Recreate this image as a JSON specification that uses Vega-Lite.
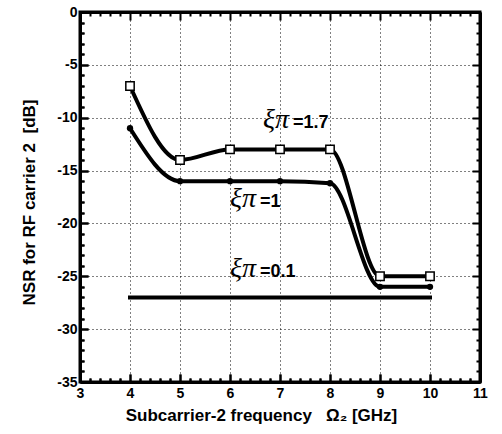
{
  "$schema": "https://vega.github.io/schema/vega-lite/v6.json",
  "width": 400,
  "height": 370,
  "autosize": "none",
  "padding": {"left": 80, "top": 12, "right": 21, "bottom": 52},
  "background": "white",
  "view": {"stroke": "black", "strokeWidth": 3},
  "datasets": {
    "xi17": [
      {"freq": 4, "nsr": -7},
      {"freq": 5, "nsr": -14},
      {"freq": 6, "nsr": -13},
      {"freq": 7, "nsr": -13},
      {"freq": 8, "nsr": -13},
      {"freq": 9, "nsr": -25},
      {"freq": 10, "nsr": -25}
    ],
    "xi1": [
      {"freq": 4, "nsr": -11},
      {"freq": 5, "nsr": -16},
      {"freq": 6, "nsr": -16},
      {"freq": 7, "nsr": -16},
      {"freq": 8, "nsr": -16.2},
      {"freq": 9, "nsr": -26},
      {"freq": 10, "nsr": -26}
    ],
    "xi01": [
      {"freq": 4, "nsr": -27},
      {"freq": 10, "nsr": -27}
    ],
    "annotations": [
      {"sym": "ξπ", "val": "=1.7", "freq": 6.66, "nsr": -11.0},
      {"sym": "ξπ", "val": "=1", "freq": 6.0, "nsr": -18.45},
      {"sym": "ξπ", "val": " =0.1", "freq": 6.0, "nsr": -25.07}
    ]
  },
  "resolve": {"axis": {"x": "independent", "y": "independent"}},
  "layer": [
    {
      "data": {"name": "xi17"},
      "mark": {"type": "line", "interpolate": "monotone", "strokeWidth": 4, "color": "black"},
      "encoding": {
        "x": {
          "field": "freq", "type": "quantitative",
          "scale": {"domain": [3, 11]},
          "axis": {
            "orient": "bottom",
            "tickCount": 40,
            "labelExpr": "datum.value % 1 === 0 ? '' + datum.value : ''",
            "labelOverlap": false,
            "labelFlush": false,
            "labelFont": "Liberation Sans",
            "labelFontWeight": "bold",
            "labelFontSize": 14,
            "labelColor": "black",
            "labelPadding": 12,
            "tickColor": "black",
            "tickWidth": 2,
            "tickSize": {"condition": {"test": "datum.value % 1 === 0", "value": -8}, "value": -4},
            "domainColor": "black",
            "domainWidth": 3,
            "grid": true,
            "gridColor": "black",
            "gridWidth": 1,
            "gridDash": [1, 3],
            "gridOpacity": {"condition": {"test": "datum.value % 1 === 0", "value": 1}, "value": 0},
            "title": "Subcarrier-2 frequency\u00a0\u00a0\u00a0Ω₂ [GHz]",
            "titleFont": "Liberation Sans",
            "titleFontSize": 17,
            "titleFontWeight": "bold",
            "titleColor": "black",
            "titleX": 181,
            "titleY": 33,
            "titleAlign": "center",
            "titleBaseline": "middle"
          }
        },
        "y": {
          "field": "nsr", "type": "quantitative",
          "scale": {"domain": [-35, 0]},
          "axis": {
            "orient": "left",
            "tickCount": 35,
            "labelExpr": "datum.value % 5 === 0 ? '' + datum.value : ''",
            "labelOverlap": false,
            "labelFlush": false,
            "labelFont": "Liberation Sans",
            "labelFontWeight": "bold",
            "labelFontSize": 14,
            "labelColor": "black",
            "labelPadding": 11,
            "tickColor": "black",
            "tickWidth": 2,
            "tickSize": {"condition": {"test": "datum.value % 5 === 0", "value": -8}, "value": -4},
            "domainColor": "black",
            "domainWidth": 3,
            "grid": true,
            "gridColor": "black",
            "gridWidth": 1,
            "gridDash": [1, 3],
            "gridOpacity": {"condition": {"test": "datum.value % 5 === 0", "value": 1}, "value": 0},
            "title": "NSR for RF carrier 2\u00a0\u00a0[dB]",
            "titleFont": "Liberation Sans",
            "titleFontSize": 17,
            "titleFontWeight": "bold",
            "titleColor": "black",
            "titleAngle": -90,
            "titleX": -51,
            "titleY": 190,
            "titleAlign": "center",
            "titleBaseline": "middle"
          }
        }
      }
    },
    {
      "data": {"name": "xi1"},
      "mark": {"type": "line", "interpolate": "monotone", "strokeWidth": 4, "color": "black"},
      "encoding": {
        "x": {
          "field": "freq", "type": "quantitative",
          "axis": {
            "orient": "top",
            "tickCount": 40,
            "labels": false,
            "ticks": false,
            "title": null,
            "domainColor": "black",
            "domainWidth": 3,
            "grid": true,
            "gridColor": "black",
            "gridWidth": 2,
            "gridOpacity": 1,
            "gridDash": {"condition": {"test": "datum.value % 1 === 0", "value": [8, 354, 8, 0]}, "value": [4, 362, 4, 0]}
          }
        },
        "y": {
          "field": "nsr", "type": "quantitative",
          "axis": {
            "orient": "right",
            "tickCount": 35,
            "labels": false,
            "ticks": false,
            "title": null,
            "domainColor": "black",
            "domainWidth": 3,
            "grid": true,
            "gridColor": "black",
            "gridWidth": 2,
            "gridOpacity": 1,
            "gridDash": {"condition": {"test": "datum.value % 5 === 0", "value": [8, 384, 8, 0]}, "value": [4, 392, 4, 0]}
          }
        }
      }
    },
    {
      "data": {"name": "xi01"},
      "mark": {"type": "line", "strokeWidth": 4, "color": "black", "strokeCap": "square"},
      "encoding": {
        "x": {"field": "freq", "type": "quantitative", "axis": null},
        "y": {"field": "nsr", "type": "quantitative", "axis": null}
      }
    },
    {
      "data": {"name": "xi17"},
      "mark": {"type": "point", "shape": "square", "size": 70, "filled": true, "fill": "white", "stroke": "black", "strokeWidth": 1.5, "opacity": 1},
      "encoding": {
        "x": {"field": "freq", "type": "quantitative", "axis": null},
        "y": {"field": "nsr", "type": "quantitative", "axis": null}
      }
    },
    {
      "data": {"name": "xi1"},
      "mark": {"type": "circle", "size": 40, "color": "black", "opacity": 1},
      "encoding": {
        "x": {"field": "freq", "type": "quantitative", "axis": null},
        "y": {"field": "nsr", "type": "quantitative", "axis": null}
      }
    },
    {
      "data": {"name": "annotations"},
      "mark": {"type": "text", "align": "left", "baseline": "alphabetic", "font": "Liberation Serif", "fontStyle": "italic", "fontSize": 28, "color": "black"},
      "encoding": {
        "x": {"field": "freq", "type": "quantitative", "axis": null},
        "y": {"field": "nsr", "type": "quantitative", "axis": null},
        "text": {"field": "sym"}
      }
    },
    {
      "data": {"name": "annotations"},
      "mark": {"type": "text", "align": "left", "baseline": "alphabetic", "dx": 30, "font": "Liberation Sans", "fontWeight": "bold", "fontSize": 18, "color": "black"},
      "encoding": {
        "x": {"field": "freq", "type": "quantitative", "axis": null},
        "y": {"field": "nsr", "type": "quantitative", "axis": null},
        "text": {"field": "val"}
      }
    }
  ]
}
